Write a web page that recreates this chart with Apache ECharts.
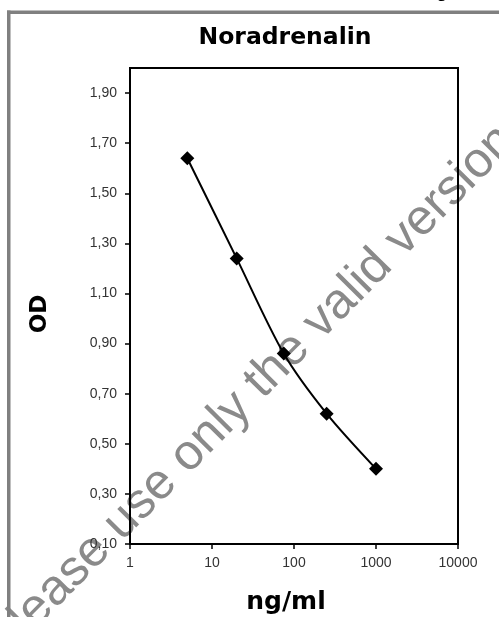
<!DOCTYPE html>
<html><head><meta charset="utf-8">
<script src="https://cdn.jsdelivr.net/npm/echarts@6/dist/echarts.min.js"></script>
<style>html,body{margin:0;padding:0;background:#fff}#c{width:499px;height:617px}</style>
</head><body><div id="c"></div>
<script>
const titleText = 'Noradrenalin';
const xName = 'ng/ml';
const yName = 'OD';
const concentrations = [5, 20, 75, 250, 1000];
const odValues = [1.64, 1.24, 0.86, 0.62, 0.40];
const yTickValues = [0.10, 0.30, 0.50, 0.70, 0.90, 1.10, 1.30, 1.50, 1.70, 1.90];
const xTickValues = [1, 10, 100, 1000, 10000];
const watermarkText = 'Please use only the valid version';

const chart = echarts.init(document.getElementById('c'));
chart.setOption({
  animation: false,
  backgroundColor: '#fff',
  title: {
    text: titleText, left: 280, top: 21, textAlign: 'center',
    textStyle: {fontFamily: 'DejaVu Sans', fontWeight: 'bold', fontSize: 23.5, color: '#000'}
  },
  grid: {left: 130, right: 41, top: 68, bottom: 73, outerBoundsMode: 'none', containLabel: false,
    show: true, borderColor: '#000', borderWidth: 2, backgroundColor: 'transparent'},
  xAxis: {
    type: 'log', logBase: 10, min: xTickValues[0], max: xTickValues[xTickValues.length - 1],
    name: xName, nameLocation: 'middle', nameGap: 46,
    nameTextStyle: {fontFamily: 'DejaVu Sans', fontWeight: 'bold', fontSize: 25, color: '#000', padding: [0, 16, 0, 0]},
    axisLine: {lineStyle: {color: '#000', width: 2}},
    axisTick: {show: true, length: 5, lineStyle: {color: '#000', width: 1.5}},
    axisLabel: {margin: 12, fontFamily: 'Liberation Sans', fontSize: 14, color: '#333', formatter: v => String(v)},
    splitLine: {show: false}, minorSplitLine: {show: false}
  },
  yAxis: {
    type: 'value', min: yTickValues[0], max: 2.0,
    name: yName, nameLocation: 'middle', nameGap: 78, nameRotate: 90,
    nameTextStyle: {fontFamily: 'DejaVu Sans', fontWeight: 'bold', fontSize: 23, color: '#000', padding: [0, 16, 0, 0]},
    axisLine: {show: true, lineStyle: {color: '#000', width: 2}},
    axisTick: {show: true, length: 5, customValues: yTickValues, lineStyle: {color: '#000', width: 1.5}},
    axisLabel: {margin: 13, customValues: yTickValues, fontFamily: 'Liberation Sans', fontSize: 14, color: '#333',
      formatter: v => Number(v).toFixed(2).replace('.', ',')},
    splitLine: {show: false}
  },
  series: [{
    type: 'line', smooth: 0.3,
    data: concentrations.map((c, i) => [c, odValues[i]]),
    symbol: 'diamond', symbolSize: 14,
    lineStyle: {color: '#000', width: 2},
    itemStyle: {color: '#000'}
  }],
  graphic: [
    {type: 'rect', shape: {x: 7, y: 10.5, width: 492, height: 3.5}, style: {fill: '#808080'}, z: 1},
    {type: 'rect', shape: {x: 7, y: 10.5, width: 3.5, height: 607}, style: {fill: '#808080'}, z: 1},
    {type: 'text', x: 448, y: 1, style: {text: 'g', fontFamily: 'DejaVu Sans', fontSize: 18, fill: '#000', textAlign: 'right', textVerticalAlign: 'bottom'}, z: 1},
    {type: 'text', x: 251, y: 392, rotation: 0.79, z: -10,
      style: {text: watermarkText, fontFamily: 'Liberation Sans', fontSize: 50, fill: '#8a8a8a', textAlign: 'center', textVerticalAlign: 'middle'}}
  ]
});
</script></body></html>
